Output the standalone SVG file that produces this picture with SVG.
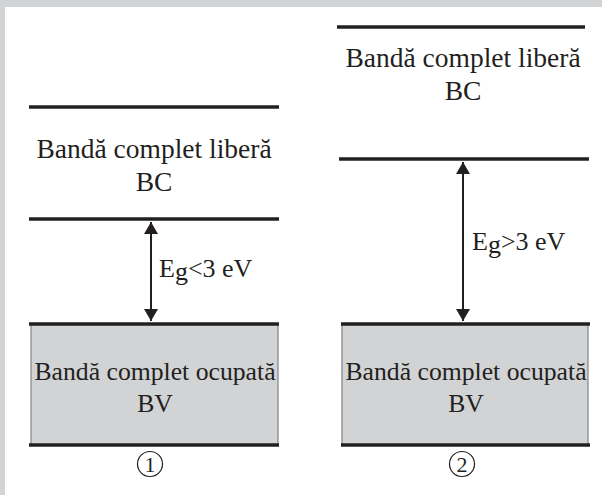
<svg xmlns="http://www.w3.org/2000/svg" width="602" height="495" viewBox="0 0 602 495">
<defs>
<style>
.lv{stroke:#231f20;stroke-width:3.5;fill:none}
.box{fill:#d1d3d4;stroke:#808285;stroke-width:1.2}
.t{font-size:27.5px;fill:#231f20;text-anchor:middle}
.b{font-size:25.7px;fill:#231f20;text-anchor:middle}
.e{font-size:26px;fill:#231f20}
.n{font-size:22px;fill:#231f20;text-anchor:middle}
.ar{stroke:#231f20;stroke-width:2;fill:none}
.c{fill:#ffffff;stroke:#231f20;stroke-width:1.2}
</style>
<marker id="ah" viewBox="0 0 12 14" refX="12" refY="7" markerWidth="12" markerHeight="14" markerUnits="userSpaceOnUse" orient="auto-start-reverse">
<path d="M0,0 L12,7 L0,14 Z" fill="#231f20"/>
</marker>
</defs>
<rect x="0" y="0" width="602" height="495" fill="#ffffff"/>
<rect x="0" y="0" width="602" height="7" fill="#d1d3d4"/>
<rect x="0" y="0" width="5" height="495" fill="#d1d3d4"/>

<g font-family="'Liberation Serif', 'Times New Roman', serif">
<g id="diagram1">
<g id="bc1">
<line class="lv" x1="29" y1="107" x2="279" y2="107"/>
<text class="t" x="154" y="158">Bandă complet liberă</text>
<text class="t" x="154" y="191">BC</text>
<line class="lv" x1="29" y1="219" x2="279" y2="219"/>
</g>
<g id="bv1">
<rect class="box" x="31" y="324" width="247" height="121"/>
<line class="lv" x1="29" y1="324" x2="279" y2="324"/>
<line class="lv" x1="29" y1="445" x2="279" y2="445"/>
<text class="b" x="155" y="380">Bandă complet ocupată</text>
<text class="b" x="155" y="412">BV</text>
</g>
<g id="lbl1">
<circle class="c" cx="150" cy="464" r="12.5"/>
<text class="n" x="150" y="472">1</text>
</g>
<text class="e" x="159" y="277">E<tspan dy="3">g</tspan><tspan dy="-3">&lt;3 eV</tspan></text>
</g>

<g id="diagram2">
<g id="bc2">
<line class="lv" x1="337" y1="27" x2="585" y2="27"/>
<text class="t" x="463" y="67">Bandă complet liberă</text>
<text class="t" x="463" y="100">BC</text>
<line class="lv" x1="339" y1="159" x2="589" y2="159"/>
</g>
<g id="bv2">
<rect class="box" x="342" y="324" width="246" height="121"/>
<line class="lv" x1="341" y1="324" x2="590" y2="324"/>
<line class="lv" x1="341" y1="445" x2="590" y2="445"/>
<text class="b" x="466" y="380">Bandă complet ocupată</text>
<text class="b" x="466" y="412">BV</text>
</g>
<g id="lbl2">
<circle class="c" cx="462" cy="464" r="12.5"/>
<text class="n" x="462" y="472">2</text>
</g>
<text class="e" x="472" y="250">E<tspan dy="3">g</tspan><tspan dy="-3">&gt;3 eV</tspan></text>
</g>
</g>

<g id="connectors">
<line class="ar" x1="151" y1="222" x2="151" y2="321" marker-start="url(#ah)" marker-end="url(#ah)"/>
<line class="ar" x1="463" y1="162" x2="463" y2="321" marker-start="url(#ah)" marker-end="url(#ah)"/>
</g>
</svg>
